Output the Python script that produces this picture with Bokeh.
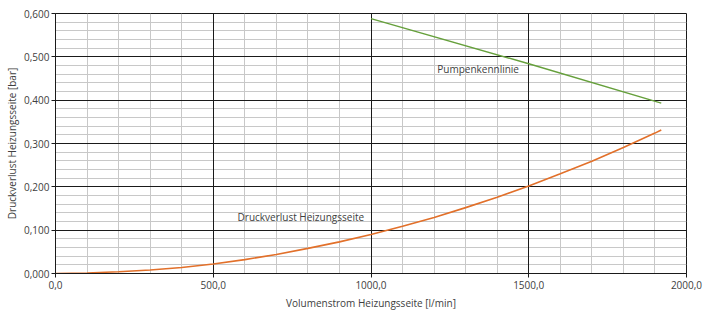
from bokeh.plotting import figure
from bokeh.models import FixedTicker, Range1d, Label, Grid
from bokeh.embed import file_html
from bokeh.resources import INLINE

# --- data ---
flow_loss = [0, 100, 200, 300, 400, 500, 600, 700, 800, 900, 1000, 1100, 1200,
             1300, 1400, 1500, 1600, 1700, 1800, 1900, 1920]
dp_loss = [0.000, 0.001, 0.004, 0.008, 0.014, 0.022, 0.032, 0.044, 0.058, 0.073,
           0.090, 0.109, 0.129, 0.152, 0.176, 0.202, 0.230, 0.259, 0.291, 0.324, 0.331]

flow_pump = [1000, 1500, 1920]
dp_pump = [0.588, 0.484, 0.393]

x_major = [0, 500, 1000, 1500, 2000]
x_labels = ["0,0", "500,0", "1000,0", "1500,0", "2000,0"]
x_minor = [100, 200, 300, 400, 600, 700, 800, 900, 1100, 1200, 1300, 1400,
           1600, 1700, 1800, 1900]
y_major = [0.0, 0.1, 0.2, 0.3, 0.4, 0.5, 0.6]
y_labels = ["0,000", "0,100", "0,200", "0,300", "0,400", "0,500", "0,600"]
y_minor = [0.02, 0.04, 0.06, 0.08, 0.12, 0.14, 0.16, 0.18, 0.22, 0.24, 0.26, 0.28,
           0.32, 0.34, 0.36, 0.38, 0.42, 0.44, 0.46, 0.48, 0.52, 0.54, 0.56, 0.58]

FONT = "Open Sans"
TXT = "#404040"

p = figure(frame_width=631, frame_height=260, output_backend="svg", toolbar_location=None,
           x_range=Range1d(0, 2000), y_range=Range1d(0, 0.6),
           min_border_left=55, min_border_right=17, min_border_top=13, min_border_bottom=30)
p.background_fill_color = "white"
p.border_fill_color = "white"
p.outline_line_color = "#1a1a1a"
p.outline_line_width = 1

x_ticker = FixedTicker(ticks=x_major, minor_ticks=x_minor)
y_ticker = FixedTicker(ticks=y_major, minor_ticks=y_minor)
p.xaxis.ticker = x_ticker
p.yaxis.ticker = y_ticker
p.xaxis.major_label_overrides = {t: l for t, l in zip(x_major, x_labels)}
p.yaxis.major_label_overrides = {t: l for t, l in zip(y_major, y_labels)}

for ax in (p.xaxis, p.yaxis):
    ax.axis_line_color = "#1a1a1a"
    ax.major_tick_line_color = "#1a1a1a"
    ax.major_tick_in = 0
    ax.major_tick_out = 4
    ax.minor_tick_line_color = None
    ax.major_label_text_font = FONT
    ax.major_label_text_font_size = "10px"
    ax.major_label_text_color = TXT
    ax.major_label_standoff = 3
    ax.axis_label_text_font = FONT
    ax.axis_label_text_font_size = "10px"
    ax.axis_label_text_font_style = "normal"
    ax.axis_label_text_color = TXT
    ax.axis_label_standoff = 4

p.xaxis.axis_label = "Volumenstrom Heizungsseite [l/min]"
p.yaxis.axis_label = "Druckverlust Heizungsseite [bar]"
p.yaxis.axis_label_standoff = 2
p.yaxis.major_label_standoff = 2

# minor grids first (default grids), then major grids on top
for g in (p.xgrid, p.ygrid):
    g.grid_line_color = None
    g.minor_grid_line_color = "#c8c8c8"
    g.minor_grid_line_width = 1

p.add_layout(Grid(dimension=0, ticker=x_ticker, grid_line_color="#1a1a1a",
                  grid_line_width=1, minor_grid_line_color=None))
p.add_layout(Grid(dimension=1, ticker=y_ticker, grid_line_color="#1a1a1a",
                  grid_line_width=1, minor_grid_line_color=None))

p.line(flow_loss, dp_loss, line_color="#E2702A", line_width=1.6)
p.line(flow_pump, dp_pump, line_color="#66A03C", line_width=1.4)

p.add_layout(Label(x=1210, y=0.471, text="Pumpenkennlinie", text_font=FONT,
                   text_font_size="10px", text_color=TXT, text_baseline="middle",
                   text_align="left"))
p.add_layout(Label(x=577, y=0.1315, text="Druckverlust Heizungsseite", text_font=FONT,
                   text_font_size="10px", text_color=TXT, text_baseline="middle",
                   text_align="left"))

open("out.html", "w").write(file_html(p, INLINE))
